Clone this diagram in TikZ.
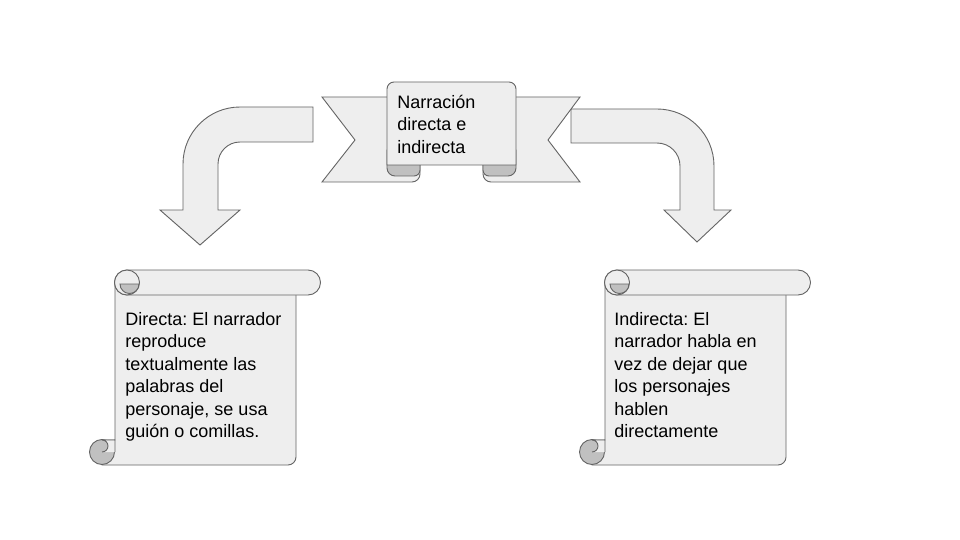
\documentclass[tikz,border=0pt]{standalone}
\usepackage{fontspec}
\setmainfont{Liberation Sans}
\usepackage{tikz}

\definecolor{lightfill}{RGB}{238,238,238}
\definecolor{rollfill}{RGB}{192,192,192}
\definecolor{edgegray}{RGB}{100,100,100}

\frenchspacing

\begin{document}
\begin{tikzpicture}[x=1pt, y=-1pt, line width=0.9pt,
    paper/.style={draw=edgegray, fill=lightfill},
    roll/.style={draw=edgegray, fill=rollfill},
    txt/.style={anchor=north west, inner sep=0pt, align=left, font=\fontsize{18}{22.5}\selectfont}]
    \fill [white] (0,0) rectangle (960,540);
    \useasboundingbox (0,0) rectangle (960,540);

    \draw [paper] (313,107) -- (240,107) arc [start angle=-90, end angle=-180, radius=57] -- (183,210) -- (160,210) -- (200,245) -- (240,210) -- (218,210) -- (218,164) arc [start angle=180, end angle=270, radius=22] -- (313,142) -- cycle;
    \draw [paper] (571,109) -- (657,109) arc [start angle=-90, end angle=0, radius=57] -- (714,210) -- (731,210) -- (697,242) -- (664,210) -- (680,210) -- (680,166) arc [start angle=0, end angle=-90, radius=23] -- (571,143) -- cycle;

    \draw [paper] (322,97) -- (420,97) -- (420,174) arc [start angle=0, end angle=90, radius=8] -- (322,182) -- (355,140) -- cycle;
    \draw [paper] (580,97) -- (483,97) -- (483,174) arc [start angle=180, end angle=90, radius=8] -- (580,182) -- (548,140) -- cycle;
    \draw [roll] (387,150) -- (387,168) arc [start angle=180, end angle=90, radius=8] -- (414,176) arc [start angle=90, end angle=0, radius=6] -- (420,150) -- cycle;
    \draw [roll] (516,150) -- (516,168) arc [start angle=0, end angle=90, radius=8] -- (489,176) arc [start angle=90, end angle=180, radius=6] -- (483,150) -- cycle;
    \draw [paper] (387,165) -- (387,89) arc [start angle=180, end angle=270, radius=7] -- (509,82) arc [start angle=270, end angle=360, radius=7] -- (516,165) -- cycle;
    \node [txt] (titulo) at (397,94.5) {Narración\\directa e\\indirecta};

    \foreach \sx in {0,490} {
        \begin{scope}[xshift=\sx]
            \draw [paper] (115,282) -- (296,282) -- (296,457) arc [start angle=0, end angle=90, radius=8] -- (102,465) -- (102,440) -- (115,440) -- cycle;
            \draw [roll] (102,452) circle [radius=12.5];
            \draw [paper] (115,452) -- (115,440) -- (102,440) arc [start angle=-90, end angle=90, radius=6];
            \draw [paper] (127,270) -- (308,270) arc [start angle=-90, end angle=90, radius=12.5] -- (127,295) arc [start angle=90, end angle=270, radius=12.5] -- cycle;
            \draw [paper] (127,282.5) circle [radius=12.5];
            \draw [roll] (120,284) arc [start angle=180, end angle=0, radius=9.5] -- cycle;
        \end{scope}
    }

    \node [txt] (directa) at (125,312) {Directa: El narrador\\reproduce\\textualmente las\\palabras del\\personaje, se usa\\guión o comillas.};
    \node [txt] (indirecta) at (614,312) {Indirecta: El\\narrador habla en\\vez de dejar que\\los personajes\\hablen\\directamente};
\end{tikzpicture}
\end{document}
